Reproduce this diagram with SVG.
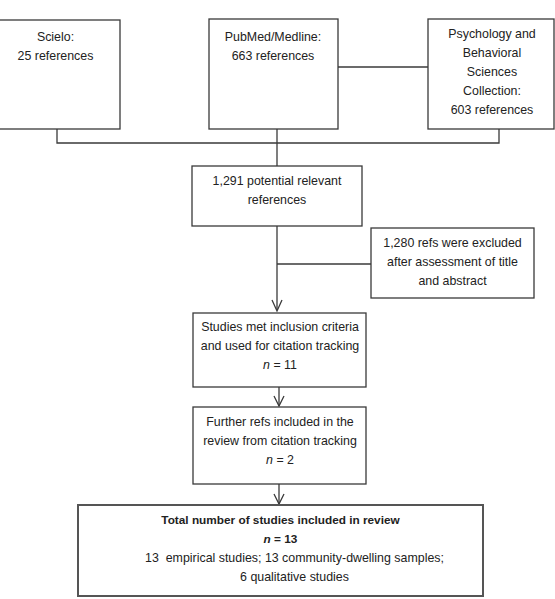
<svg xmlns="http://www.w3.org/2000/svg" width="555" height="599" viewBox="0 0 555 599">
<defs>
<style>
.box{fill:#fff;stroke:#3a3a3a;stroke-width:1.3}
.fin{fill:#fff;stroke:#555;stroke-width:2}
.ln{fill:none;stroke:#3a3a3a;stroke-width:1.3}
.ah{fill:none;stroke:#3a3a3a;stroke-width:1.3}
text{font-family:"Liberation Sans",Arial,sans-serif;font-size:12.4px;fill:#222;text-anchor:middle}
.b{font-weight:bold;font-size:11.8px}
</style>
</defs>
<rect width="555" height="599" fill="#fff"/>
<g id="connectors">
<path class="ln" d="M57,129 V143 H499 V129"/>
<path class="ln" d="M277,129 V166"/>
<path class="ln" d="M338,67 H428"/>
<path class="ln" d="M277,226 V310"/>
<path class="ah" d="M272,300 L277,311 L282,300"/>
<path class="ln" d="M277,264 H371"/>
<path class="ln" d="M279,387 V406"/>
<path class="ah" d="M274,396 L279,406 L284,396"/>
<path class="ln" d="M279,484 V504"/>
<path class="ah" d="M274,494 L279,504 L284,494"/>
</g>
<g id="scielo">
<rect class="box" x="-1" y="20" width="121" height="109"/>
<text x="55.5" y="41">Scielo:</text>
<text x="55.5" y="60">25 references</text>
</g>
<g id="pubmed">
<rect class="box" x="209" y="19" width="129" height="110"/>
<text x="273" y="41">PubMed/Medline:</text>
<text x="273" y="60">663 references</text>
</g>
<g id="psych">
<rect class="box" x="428" y="19" width="126" height="110"/>
<text x="492" y="38">Psychology and</text>
<text x="492" y="57">Behavioral</text>
<text x="492" y="76">Sciences</text>
<text x="492" y="95">Collection:</text>
<text x="492" y="114">603 references</text>
</g>
<g id="potential">
<rect class="box" x="192" y="166" width="170" height="60"/>
<text x="277" y="185">1,291 potential relevant</text>
<text x="277" y="204">references</text>
</g>
<g id="excluded">
<rect class="box" x="371" y="228" width="163" height="70"/>
<text x="452.5" y="247">1,280 refs were excluded</text>
<text x="452.5" y="266">after assessment of title</text>
<text x="452.5" y="285">and abstract</text>
</g>
<g id="inclusion">
<rect class="box" x="193" y="313" width="173" height="74"/>
<text x="280" y="331">Studies met inclusion criteria</text>
<text x="280" y="350">and used for citation tracking</text>
<text x="280" y="369"><tspan font-style="italic">n</tspan> = 11</text>
</g>
<g id="further">
<rect class="box" x="193" y="407" width="173" height="77"/>
<text x="280" y="426">Further refs included in the</text>
<text x="280" y="445">review from citation tracking</text>
<text x="280" y="464"><tspan font-style="italic">n</tspan> = 2</text>
</g>
<g id="total">
<rect class="fin" x="78" y="505" width="405" height="91"/>
<text class="b" x="280.5" y="524">Total number of studies included in review</text>
<text class="b" x="280.5" y="543"><tspan font-style="italic">n</tspan> = 13</text>
<text x="294.5" y="562" style="white-space:pre">13  empirical studies; 13 community-dwelling samples;</text>
<text x="294.5" y="581">6 qualitative studies</text>
</g>
</svg>
